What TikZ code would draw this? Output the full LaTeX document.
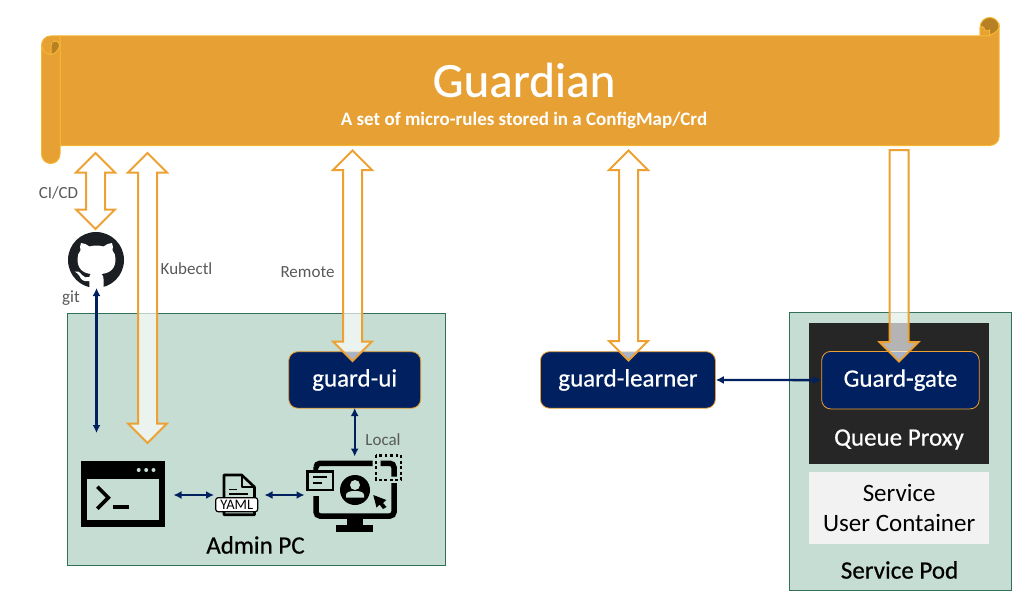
\documentclass[tikz,border=0pt]{standalone}
\usepackage{fontspec}
\setmainfont{Carlito}
\newfontfamily\heavy[FakeBold=0.5]{Carlito}
\usetikzlibrary{arrows.meta,calc}
\definecolor{scrollfill}{HTML}{E6A033}
\definecolor{scrollline}{HTML}{F4B731}
\definecolor{scrolldark}{HTML}{B88025}
\definecolor{arroworange}{HTML}{EDA133}
\definecolor{navy}{HTML}{002060}
\definecolor{boxgreen}{HTML}{C5DDD2}
\definecolor{boxline}{HTML}{32705C}
\definecolor{greytext}{HTML}{595959}
\definecolor{proxy}{HTML}{262626}
\definecolor{octo}{HTML}{1B1F23}
\tikzset{
  x=1pt,y=-1pt,
  greenbox/.style={draw=boxline,line width=1pt,fill=boxgreen},
  navynode/.style={draw=arroworange,line width=0.8pt,fill=navy,rounded corners=9pt,text=white,font=\heavy\fontsize{25}{27}\selectfont,inner sep=0pt,anchor=north west},
  scrollpart/.style={fill=scrollfill,draw=scrollline,line width=1pt},
  blockstyle/.style={draw=arroworange,line width=2pt,fill=white,fill opacity=0.66,line join=miter},
  thinarrow/.style={draw=navy,line width=2.3pt,{Latex[length=8pt,width=8pt]}-{Latex[length=8pt,width=8pt]}},
  edgelabel/.style={text=greytext,font=\fontsize{17}{19}\selectfont,inner sep=0pt},
  caption/.style={text=black,font=\heavy\fontsize{25}{27}\selectfont,inner sep=0pt},
}
% double block arrow between two vertically aligned coordinates
\newcommand{\blockboth}[2]{%
  \path let \p1=(#1),\p2=(#2) in
   [blockstyle] (\x1,\y1) -- (\x1+19.5pt,\y1-19.5pt) -- (\x1+9.5pt,\y1-19.5pt) -- (\x1+9.5pt,\y2+19.5pt)
   -- (\x1+19.5pt,\y2+19.5pt) -- (\x1,\y2) -- (\x1-19.5pt,\y2+19.5pt) -- (\x1-9.5pt,\y2+19.5pt)
   -- (\x1-9.5pt,\y1-19.5pt) -- (\x1-19.5pt,\y1-19.5pt) -- cycle;}
\begin{document}
\begin{tikzpicture}
\useasboundingbox (0,0) rectangle (1033,602);

% ---------- scroll
\fill[scrolldark] (989.7,27) circle[radius=9.5];
\draw[scrollline,line width=1pt] (980.2,36) -- (980.2,27) .. controls (980.2,21.7) and (984.4,17.5) .. (989.7,17.5)
  .. controls (995,17.5) and (999.2,21.7) .. (999.2,27);
\path[scrollpart] (980.2,36) -- (980.2,27) .. controls (982,26) and (983.5,27) .. (984,28) .. controls (984.5,31) and (987,32) .. (989.5,30) -- (989.5,36) -- cycle;
\path[scrollpart] (60,36) -- (989.5,36) .. controls (989.5,34) and (998,34) .. (999.2,26) -- (999.2,136)
  .. controls (999.2,141.5) and (995,145.5) .. (989.7,145.5) -- (60,145.5) -- cycle;
\draw[scrollline,line width=1pt] (989.5,30) -- (989.5,36);
\path[scrollpart] (41.5,45.5) .. controls (41.5,40.3) and (45.3,36) .. (50.7,36) -- (60,36) -- (60,154)
  .. controls (60,159.5) and (55.8,163.5) .. (50.7,163.5) .. controls (45.6,163.5) and (41.5,159.5) .. (41.5,154) -- cycle;
\fill[scrolldark] (51,41.3) -- (51,54) .. controls (55,54) and (59.7,49.5) .. (59.7,45)
  .. controls (59.7,43) and (57,41.3) .. (55,41.3) -- cycle;
\draw[scrollline,line width=1pt] (41.5,45.5) .. controls (43,51) and (46,54.5) .. (51,54.5)
  .. controls (55,54.5) and (59,50) .. (59.7,45) .. controls (59.7,42) and (57,41) .. (54.5,41)
  .. controls (52,41) and (51,43) .. (51,46) -- (51,54.5);
\node[text=white,inner sep=0pt,font=\heavy\fontsize{49}{52}\selectfont] (title) at (524,80) {Guardian};
\node[text=white,inner sep=0pt,font=\bfseries\fontsize{19}{21}\selectfont] (subtitle) at (524,120) {A set of micro-rules stored in a ConfigMap/Crd};

% ---------- containers
\draw[greenbox] (67.3,313.3) rectangle (445.5,565.3);
\draw[greenbox] (789.3,312.3) rectangle (1011.3,590.3);
\node[fill=proxy,minimum width=180pt,minimum height=141pt,inner sep=0pt,anchor=north west] (proxybox) at (809,323) {};
\node[fill=black!5,minimum width=180pt,minimum height=72pt,inner sep=0pt,anchor=north west,align=center,font=\fontsize{25}{30}\selectfont] (userbox) at (809,472) {Service\\User Container};
\node[text=white,inner sep=0pt,font=\heavy\fontsize{25}{27}\selectfont] (queue) at (899,439.5) {Queue Proxy};
\node[caption] (adminlabel) at (255.5,545) {Admin PC};
\node[caption] (podlabel) at (899.5,570) {Service Pod};

% ---------- service nodes
\node[navynode,minimum width=132pt,minimum height=56.5pt] (ui) at (288.3,351.3) {guard-ui};
\node[navynode,minimum width=175pt,minimum height=56.5pt] (learner) at (540,351.3) {guard-learner};
\node[navynode,minimum width=157.5pt,minimum height=57.5pt] (gate) at (821.3,351) {Guard-gate};

% ---------- anchor coordinates for connectors
\coordinate (cicdTop) at (95.5,153);
\coordinate (cicdEnd) at (95.5,229);
\coordinate (kubeTop) at (147.5,153);
\coordinate (kubeEnd) at (147.5,443);
\coordinate (remoteTop) at (352.5,150.5);
\coordinate (remoteEnd) at (352.5,361);
\coordinate (learnTop) at (628.5,150.5);
\coordinate (learnEnd) at (628.5,360.5);
\coordinate (gitTop) at (96.5,288);
\coordinate (gitEnd) at (96.5,433);
\coordinate (uiBottom) at (354.7,408);
\coordinate (monTop) at (354.7,456.5);
\coordinate (termRight) at (173.5,495);
\coordinate (yamlLeft) at (214,495);
\coordinate (yamlRight) at (264.5,495);
\coordinate (monLeft) at (304.5,495);

% ---------- GitHub icon
\fill[octo] (96,260) circle[radius=28];
\fill[white] (89.3,290) -- (89.3,281) .. controls (84,282) and (81,280) .. (79.5,276)
  .. controls (78.5,274) and (76.5,272.5) .. (74.5,271.5) .. controls (77,270.5) and (80,272) .. (82,275)
  .. controls (84,277.5) and (86.5,278) .. (89.3,277) .. controls (89.5,275.5) and (90,274.5) .. (91,274)
  .. controls (82,273) and (77.5,268) .. (77.5,259) .. controls (77.5,255.5) and (78.5,252.5) .. (80.5,250.5)
  .. controls (79.8,248) and (80,245.5) .. (81,243) .. controls (84,243) and (87,244.5) .. (89.5,246.5)
  .. controls (94,245.2) and (99,245.2) .. (103.5,246.5) .. controls (106,244.5) and (109,243) .. (112,243)
  .. controls (113,245.5) and (113.2,248) .. (112.5,250.5) .. controls (114.5,252.5) and (115.5,255.5) .. (115.5,259)
  .. controls (115.5,268) and (111,273) .. (101.5,274) .. controls (103,275.5) and (103.5,277) .. (103.5,279)
  -- (103.5,290) -- cycle;

% ---------- terminal icon
\fill[black] (81.3,461.3) rectangle (164.7,526.7);
\fill[boxgreen] (87.3,478.7) rectangle (159,520.3);
\foreach \dx in {138.7,146.2,153.5} \fill[boxgreen] (\dx,470) circle[radius=2];
\draw[black,line width=3.6pt,miter limit=4] (97.3,486.7) -- (108.3,497.7) -- (97.3,508.7);
\draw[black,line width=4pt] (112.7,507.3) -- (129.3,507.3);

% ---------- YAML icon
\draw[black,line width=2.6pt,line join=round] (224,475) -- (241.7,475) -- (254.5,487) -- (254.5,514.7) -- (224,514.7) -- cycle;
\draw[black,line width=2.4pt,line join=round] (241.7,475) -- (241.7,487) -- (254.5,487);
\draw[black,line width=1.6pt] (229.3,489.3) -- (236.7,489.3) (229.3,494) -- (248.3,494);
\node[draw=black,line width=1.2pt,fill=white,rounded corners=2.5pt,minimum width=42pt,minimum height=14pt,inner sep=0pt,text=black,font=\fontsize{14.5}{15}\selectfont] (yaml) at (236.7,504.7) {YAML};

% ---------- monitor icon
\draw[black,line width=5.5pt,rounded corners=4pt] (316,467) -- (316,463.3) -- (372.7,463.3);
\draw[black,line width=5.5pt,rounded corners=4pt] (316,496) -- (316,516) -- (394,516) -- (394,483);
\draw[black,line width=5.5pt,rounded corners=4pt] (380.7,463.3) -- (394,463.3) -- (394,476.7);
\fill[black] (347,516) rectangle (363,525.5);
\fill[black] (336,525.3) rectangle (373.3,531.5);
\draw[black,line width=2.7pt,dash pattern=on 2.8pt off 2.7pt] (376,455.3) rectangle (401,480);
\draw[black,line width=2.7pt,fill=boxgreen] (307.7,471.7) rectangle (333,490);
\draw[black,line width=2pt] (313.3,477) -- (326.7,477) (313.3,483.3) -- (321.7,483.3);
\fill[black] (355,490) circle[radius=15];
\fill[boxgreen] (355,485) circle[radius=5];
\fill[boxgreen] (346,497.5) -- (346,495) .. controls (346,492) and (350,491) .. (355,491) .. controls (360,491) and (364,492) .. (364,495) -- (364,497.5) -- cycle;
\fill[black] (373.3,495) -- (386.3,500) -- (383,503) -- (386.5,507) -- (383,509) -- (379.5,504.5) -- (376.5,507.7) -- cycle;

% ---------- thin connectors
\draw[thinarrow] (gitTop) -- (gitEnd);
\draw[thinarrow] (uiBottom) -- (monTop);
\draw[thinarrow] (termRight) -- (yamlLeft);
\draw[thinarrow] (yamlRight) -- (monLeft);
\draw[thinarrow] (gate.west) -- (learner.east);

% ---------- block connectors
\blockboth{cicdTop}{cicdEnd}
\blockboth{kubeTop}{kubeEnd}
\blockboth{remoteTop}{remoteEnd}
\blockboth{learnTop}{learnEnd}
\coordinate (gateTop) at (899,150);
\coordinate (gateEnd) at (899,361.5);
\path let \p1=(gateTop),\p2=(gateEnd) in [blockstyle]
  (\x1-9.5pt,\y1) -- (\x1+9.5pt,\y1) -- (\x1+9.5pt,\y2+19.5pt) -- (\x1+19.5pt,\y2+19.5pt) -- (\x1,\y2)
  -- (\x1-19.5pt,\y2+19.5pt) -- (\x1-9.5pt,\y2+19.5pt) -- cycle;

% ---------- labels
\node[edgelabel] (cicd) at (58.5,193) {CI/CD};
\node[edgelabel] (kubectl) at (186.5,269) {Kubectl};
\node[edgelabel] (remote) at (307.5,272) {Remote};
\node[edgelabel] (git) at (71,298) {git};
\node[edgelabel] (local) at (383,440) {Local};
\end{tikzpicture}
\end{document}
